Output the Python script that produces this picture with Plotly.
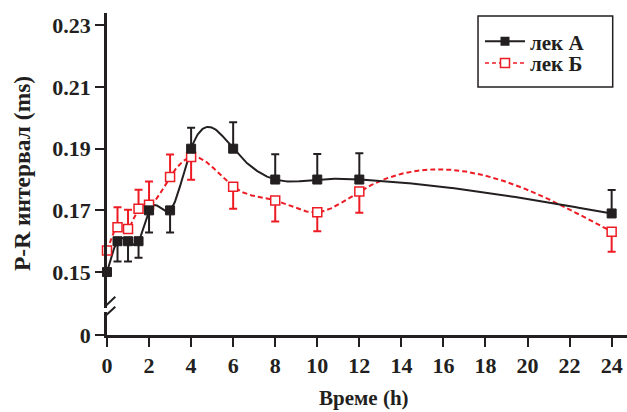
import numpy as np
import plotly.graph_objects as go

# ---- data ----
time_h = [0, 0.5, 1, 1.5, 2, 3, 4, 6, 8, 10, 12, 24]
lek_a = [0.150, 0.160, 0.160, 0.160, 0.170, 0.170, 0.190, 0.190, 0.180, 0.180, 0.180, 0.169]
lek_a_err_plus = [0, 0, 0, 0, 0, 0, 0.0068, 0.0086, 0.0082, 0.0083, 0.0085, 0.0076]
lek_a_err_minus = [0, 0.0066, 0.0066, 0.0054, 0.0072, 0.0072, 0, 0, 0, 0, 0, 0]
lek_b = [0.157, 0.1645, 0.164, 0.1705, 0.1718, 0.1808, 0.1873, 0.1777, 0.1732, 0.1694, 0.1761, 0.1631]
lek_b_err_plus = [0, 0.0065, 0.0062, 0.0062, 0.0076, 0.0073, 0, 0, 0, 0, 0, 0]
lek_b_err_minus = [0, 0, 0, 0, 0, 0, 0.0074, 0.0072, 0.0068, 0.0062, 0.0069, 0.0065]
y_ticks = [0.15, 0.17, 0.19, 0.21, 0.23]
x_ticks = list(range(0, 25, 2))
names = ["лек А", "лек Б"]

BLACK = "#231f20"
RED = "#ed1c24"
FONT = "Liberation Serif"
FS = 21
FS_TICK = 22


def natural_spline(x, y, n=600):
    x = np.asarray(x, float)
    y = np.asarray(y, float)
    k = len(x)
    h = np.diff(x)
    A = np.zeros((k, k))
    r = np.zeros(k)
    A[0, 0] = 1
    A[-1, -1] = 1
    for i in range(1, k - 1):
        A[i, i - 1] = h[i - 1]
        A[i, i] = 2 * (h[i - 1] + h[i])
        A[i, i + 1] = h[i]
        r[i] = 6 * ((y[i + 1] - y[i]) / h[i] - (y[i] - y[i - 1]) / h[i - 1])
    M = np.linalg.solve(A, r)
    xs = np.linspace(x[0], x[-1], n)
    ys = np.empty_like(xs)
    for j, t in enumerate(xs):
        i = min(np.searchsorted(x, t, side="right") - 1, k - 2)
        i = max(i, 0)
        a = x[i + 1] - t
        b = t - x[i]
        hi = h[i]
        ys[j] = (M[i] * a ** 3 / (6 * hi) + M[i + 1] * b ** 3 / (6 * hi)
                 + (y[i] / hi - M[i] * hi / 6) * a + (y[i + 1] / hi - M[i + 1] * hi / 6) * b)
    return xs, ys


fig = go.Figure()

xa, ya = natural_spline(time_h, lek_a)
xb, yb = natural_spline(time_h, lek_b)

# dummy trace so the lower (post-break) axis exists
fig.add_trace(go.Scatter(x=[None], y=[None], yaxis="y2", showlegend=False, hoverinfo="skip"))

fig.add_trace(go.Scatter(x=xb, y=yb, mode="lines", line=dict(color=RED, width=2, dash="5px,3px"),
                         showlegend=False, hoverinfo="skip", cliponaxis=False))
fig.add_trace(go.Scatter(x=xa, y=ya, mode="lines", line=dict(color=BLACK, width=2),
                         showlegend=False, hoverinfo="skip", cliponaxis=False))

fig.add_trace(go.Scatter(
    x=time_h, y=lek_b, mode="markers", showlegend=False, cliponaxis=False,
    marker=dict(symbol="square", size=9, color="white", line=dict(color=RED, width=1.5)),
    error_y=dict(type="data", symmetric=False, array=lek_b_err_plus, arrayminus=lek_b_err_minus,
                 color=RED, thickness=2, width=4)))
fig.add_trace(go.Scatter(
    x=time_h, y=lek_a, mode="markers", showlegend=False, cliponaxis=False,
    marker=dict(symbol="square", size=9, color=BLACK, line=dict(color=BLACK, width=1)),
    error_y=dict(type="data", symmetric=False, array=lek_a_err_plus, arrayminus=lek_a_err_minus,
                 color=BLACK, thickness=2, width=4)))

# legend-only traces (one legend per row so the row spacing can match)
fig.add_trace(go.Scatter(x=[None], y=[None], mode="lines+markers", name=names[0],
                         legend="legend",
                         line=dict(color=BLACK, width=2),
                         marker=dict(symbol="square", size=9, color=BLACK)))
fig.add_trace(go.Scatter(x=[None], y=[None], mode="lines+markers", name=names[1],
                         legend="legend2",
                         line=dict(color=RED, width=1.5, dash="4px,3px"),
                         marker=dict(symbol="square", size=9, color="white", line=dict(color=RED, width=1.5))))

axis_common = dict(showline=True, linecolor=BLACK, linewidth=2.5, ticks="outside", ticklen=9,
                   tickwidth=2, tickcolor=BLACK, showgrid=False, zeroline=False,
                   tickfont=dict(family=FONT, size=FS_TICK, color=BLACK, weight="bold"))

leg_common = dict(x=0.7173, xanchor="left", yanchor="middle", bgcolor="rgba(0,0,0,0)", borderwidth=0,
                  itemwidth=40,
                  font=dict(family=FONT, size=FS, color=BLACK, weight="bold"))

fig.update_layout(
    width=627, height=412,
    margin=dict(l=107, r=0, t=13, b=77),
    plot_bgcolor="white", paper_bgcolor="white",
    xaxis=dict(range=[0, 24.73], tickvals=x_ticks, anchor="y2", **axis_common),
    yaxis=dict(domain=[0.0838, 1], range=[0.13834, 0.234], tickvals=y_ticks,
               ticktext=[f"{v:.2f}" for v in y_ticks], anchor="x", **axis_common),
    yaxis2=dict(domain=[0, 0.07], range=[0, 1], tickvals=[0], ticktext=["0"], anchor="x", **axis_common),
    legend=dict(y=0.9109, **leg_common),
    legend2=dict(y=0.8438, **leg_common),
    showlegend=True,
    annotations=[
        dict(text="P-R интервал (ms)", textangle=-90, xref="paper", yref="paper", x=-0.1647, y=0.501,
             xanchor="center", yanchor="middle", showarrow=False,
             font=dict(family=FONT, size=23.5, color=BLACK, weight="bold")),
        dict(text="Време (h)", xref="paper", yref="paper", x=0.495, y=-0.1955,
             xanchor="center", yanchor="middle", showarrow=False,
             font=dict(family=FONT, size=FS, color=BLACK, weight="bold")),
    ],
    shapes=[
        dict(type="rect", xref="paper", yref="paper", x0=0.7135, x1=0.9725, y0=0.770, y1=0.9907,
             line=dict(color=BLACK, width=1.5), fillcolor="white", layer="below"),
        dict(type="line", xref="x", yref="paper", xsizemode="pixel", ysizemode="pixel",
             xanchor=0, yanchor=0.0776, x0=-9, x1=8.3, y0=-3, y1=13.3, line=dict(color=BLACK, width=2)),
        dict(type="line", xref="x", yref="paper", xsizemode="pixel", ysizemode="pixel",
             xanchor=0, yanchor=0.0776, x0=-9, x1=8.3, y0=-12.7, y1=3.3, line=dict(color=BLACK, width=2)),
    ],
)

fig.write_html("out.html", config={"displayModeBar": False},
               post_script="document.body.style.margin='0';")
